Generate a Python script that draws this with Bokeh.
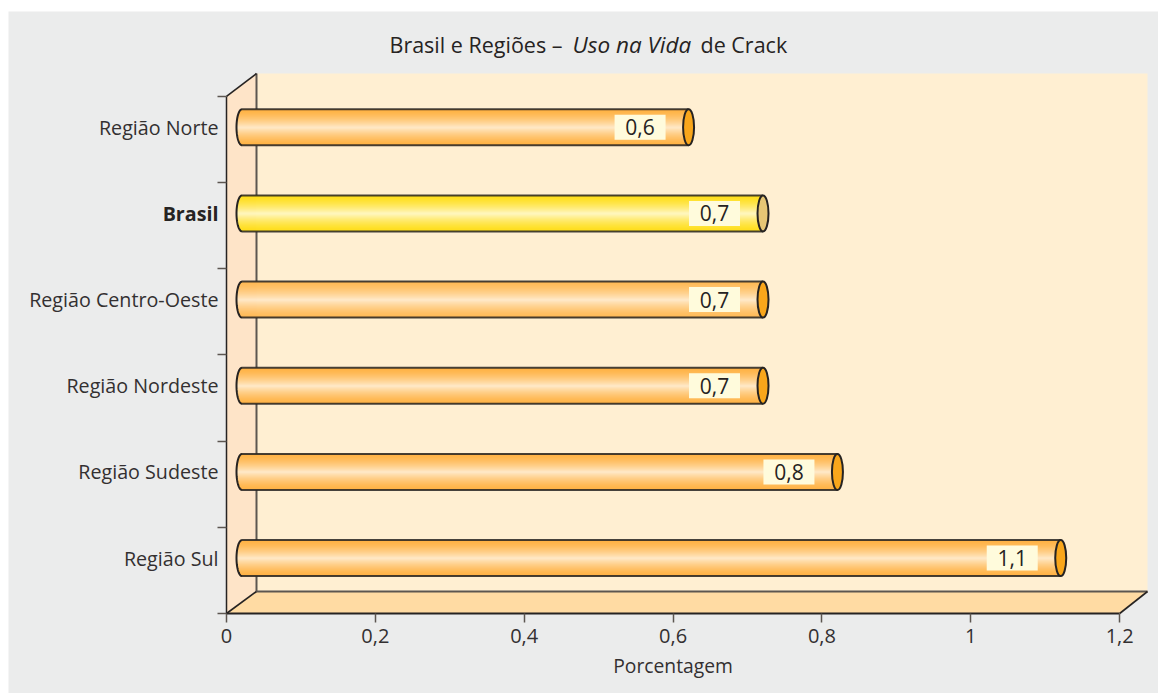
import numpy as np
from bokeh.plotting import figure
from bokeh.models import Range1d, FixedTicker, LinearAxis
from bokeh.core.properties import value
from bokeh.embed import file_html
from bokeh.resources import INLINE

# data (bottom to top)
categories = ["Região Sul", "Região Sudeste", "Região Nordeste", "Região Centro-Oeste", "Brasil", "Região Norte"]
values = [1.1, 0.8, 0.7, 0.7, 0.7, 0.6]
value_labels = ["1,1", "0,8", "0,7", "0,7", "0,7", "0,6"]
x_ticks = [0, 0.2, 0.4, 0.6, 0.8, 1.0, 1.2]
x_tick_labels = ["0", "0,2", "0,4", "0,6", "0,8", "1", "1,2"]
title_parts = ["Brasil e Regiões –", "Uso na Vida", "de Crack"]
x_title = "Porcentagem"

# style
FONT = value("Open Sans")
PANEL = "#EBECEC"
WALL = "#FFEFD2"
SIDE = "#FEE4C8"
FLOOR = "#FFDBA3"
DARK = "#262322"
GREY = "#5C5650"
TEXT = "#333031"
ORANGE_STOPS = ("#FFB244", "#FFE9C8")
YELLOW_STOPS = ("#FFDC00", "#FFF8C0")
ORANGE_CAP = "#F9A61B"
YELLOW_CAP = "#E6C675"
BOX = "#FFFBDC"

# geometry in pixels
FIG_W, FIG_H = 1150, 682
LEFT, TOP = 8, 11
X0_PX, Y0_PX = 226, 613
PX_X = 744.3   # pixels per x unit
PX_Y = 86.17   # pixels per category band
dx_full = 30 / PX_X
dy_full = 22 / PX_Y
dx_bar = 15.5 / PX_X
BAR_H = 36 / PX_Y
CAP_A = 5.5 / PX_X


def sx(px):
    return (px - X0_PX) / PX_X


def sy(px):
    return (Y0_PX - px) / PX_Y


x_wall = sx(1147)
y_wall = sy(73)
x_end = x_ticks[-1]
y_end = len(categories)

p = figure(width=FIG_W, height=FIG_H, output_backend="svg", toolbar_location=None,
           x_range=Range1d(sx(LEFT), sx(LEFT + FIG_W)), y_range=Range1d(sy(TOP + FIG_H), sy(TOP)),
           x_axis_type=None, y_axis_type=None,
           min_border=0, background_fill_color=PANEL, border_fill_color=PANEL, outline_line_color=None)
p.margin = (TOP, 0, 0, LEFT)
p.grid.visible = False

centers = [i + 0.5 + 12.3 / PX_Y for i in range(len(categories))]

# walls and floor
p.patch([dx_full, x_wall, x_wall, dx_full], [dy_full, dy_full, y_wall, y_wall], fill_color=WALL, line_color=None)
p.patch([0, dx_full, dx_full, 0], [0, dy_full, y_wall, y_end], fill_color=SIDE, line_color=None)
p.patch([0, x_end, x_wall, dx_full], [0, 0, dy_full, dy_full], fill_color=FLOOR, line_color=None)
# the back-wall edge only shows between the cylinders
edges = [dy_full] + [v for c in centers for v in (c - BAR_H / 2, c + BAR_H / 2)] + [y_wall]
for y0, y1 in zip(edges[0::2], edges[1::2]):
    p.line([dx_full, dx_full], [y0, y1], line_color=GREY, line_width=2)
p.line([dx_full, x_wall], [dy_full, dy_full], line_color=GREY, line_width=2)
p.line([0, dx_full], [y_end, y_wall], line_color=DARK, line_width=1.6)
p.line([0, dx_full], [0, dy_full], line_color=DARK, line_width=1.6)
p.line([x_end, x_wall], [0, dy_full], line_color=DARK, line_width=1.6)

# axes, fixed on the frame
xa = LinearAxis(ticker=FixedTicker(ticks=x_ticks), bounds=(0, x_end), fixed_location=0,
                major_label_overrides={t: l for t, l in zip(x_ticks, x_tick_labels)},
                major_label_text_font="Open Sans", major_label_text_font_size="20px",
                major_label_text_color=TEXT, major_label_standoff=6,
                axis_line_color=DARK, axis_line_width=2,
                major_tick_in=0, major_tick_out=9, major_tick_line_color=GREY, major_tick_line_width=1.5,
                minor_tick_line_color=None)
p.add_layout(xa, "below")
ya = LinearAxis(ticker=FixedTicker(ticks=list(range(len(categories) + 1))), bounds=(0, y_end), fixed_location=0,
                major_label_text_color=None, major_label_text_font_size="1px",
                axis_line_color=DARK, axis_line_width=1.5,
                major_tick_in=0, major_tick_out=9, major_tick_line_color=GREY, major_tick_line_width=1.5,
                minor_tick_line_color=None)
p.add_layout(ya, "left")

# cylinders
n = 36
offs = (np.arange(n) + 0.5) / n * 2 - 1
step = BAR_H / n


def hex2rgb(h):
    return np.array([int(h[i:i + 2], 16) for i in (1, 3, 5)], float)


def ramp(c0, c1, t):
    a, b = hex2rgb(c0), hex2rgb(c1)
    c = a + (b - a) * (1 - t) ** 1.5
    return "#%02x%02x%02x" % tuple(int(round(v)) for v in c)


for cat, val, yc, lab in zip(categories, values, centers, value_labels):
    is_br = cat == "Brasil"
    stops = YELLOW_STOPS if is_br else ORANGE_STOPS
    end = val + dx_bar
    ys = yc + offs * BAR_H / 2
    lefts = dx_bar - CAP_A * np.sqrt(1 - offs ** 2)
    p.quad(left=lefts, right=[end] * n, bottom=ys - step * 0.65, top=ys + step * 0.65,
           fill_color=[ramp(*stops, abs(t)) for t in offs], fill_alpha=1.0, line_color=None)
    theta = np.linspace(np.pi / 2, 3 * np.pi / 2, 40)
    p.line(dx_bar + CAP_A * np.cos(theta), yc + BAR_H / 2 * np.sin(theta), line_color=DARK, line_width=2)
    p.segment([dx_bar, dx_bar], [yc + BAR_H / 2, yc - BAR_H / 2], [end, end], [yc + BAR_H / 2, yc - BAR_H / 2],
              line_color=DARK, line_width=2, line_alpha=0.85)
    p.ellipse([end], [yc], width=11, height=36, width_units="screen", height_units="screen",
              fill_color=YELLOW_CAP if is_br else ORANGE_CAP, fill_alpha=1.0, line_color=DARK, line_width=2)
    p.rect([end - 48.5 / PX_X], [yc], width=51, height=25, width_units="screen", height_units="screen",
           fill_color=BOX, fill_alpha=1.0, line_color=None)
    p.text([end - 48.5 / PX_X], [yc], text=[lab], text_align="center", text_baseline="middle",
           text_font=FONT, text_font_size="21px", text_color=DARK)
    p.text([0], [yc], x_offset=-8, text=[cat], text_align="right", text_baseline="middle",
           text_font=FONT, text_font_size="19.7px", text_color=DARK if is_br else TEXT,
           text_font_style="bold" if is_br else "normal")

p.text([x_ticks[3]], [sy(665)], text=[x_title], text_align="center", text_baseline="middle",
       text_font=FONT, text_font_size="19.3px", text_color=TEXT)

# title in three runs (the middle one italic)
for part, px, style, fs in zip(title_parts, [389, 572, 700], ["normal", "italic", "normal"], ["21.5px", "22.5px", "21.5px"]):
    p.text([sx(px)], [sy(44)], text=[part], text_align="left", text_baseline="middle",
           text_font=FONT, text_font_size=fs, text_font_style=style, text_color=DARK)

open("out.html", "w").write(file_html(p, INLINE))
